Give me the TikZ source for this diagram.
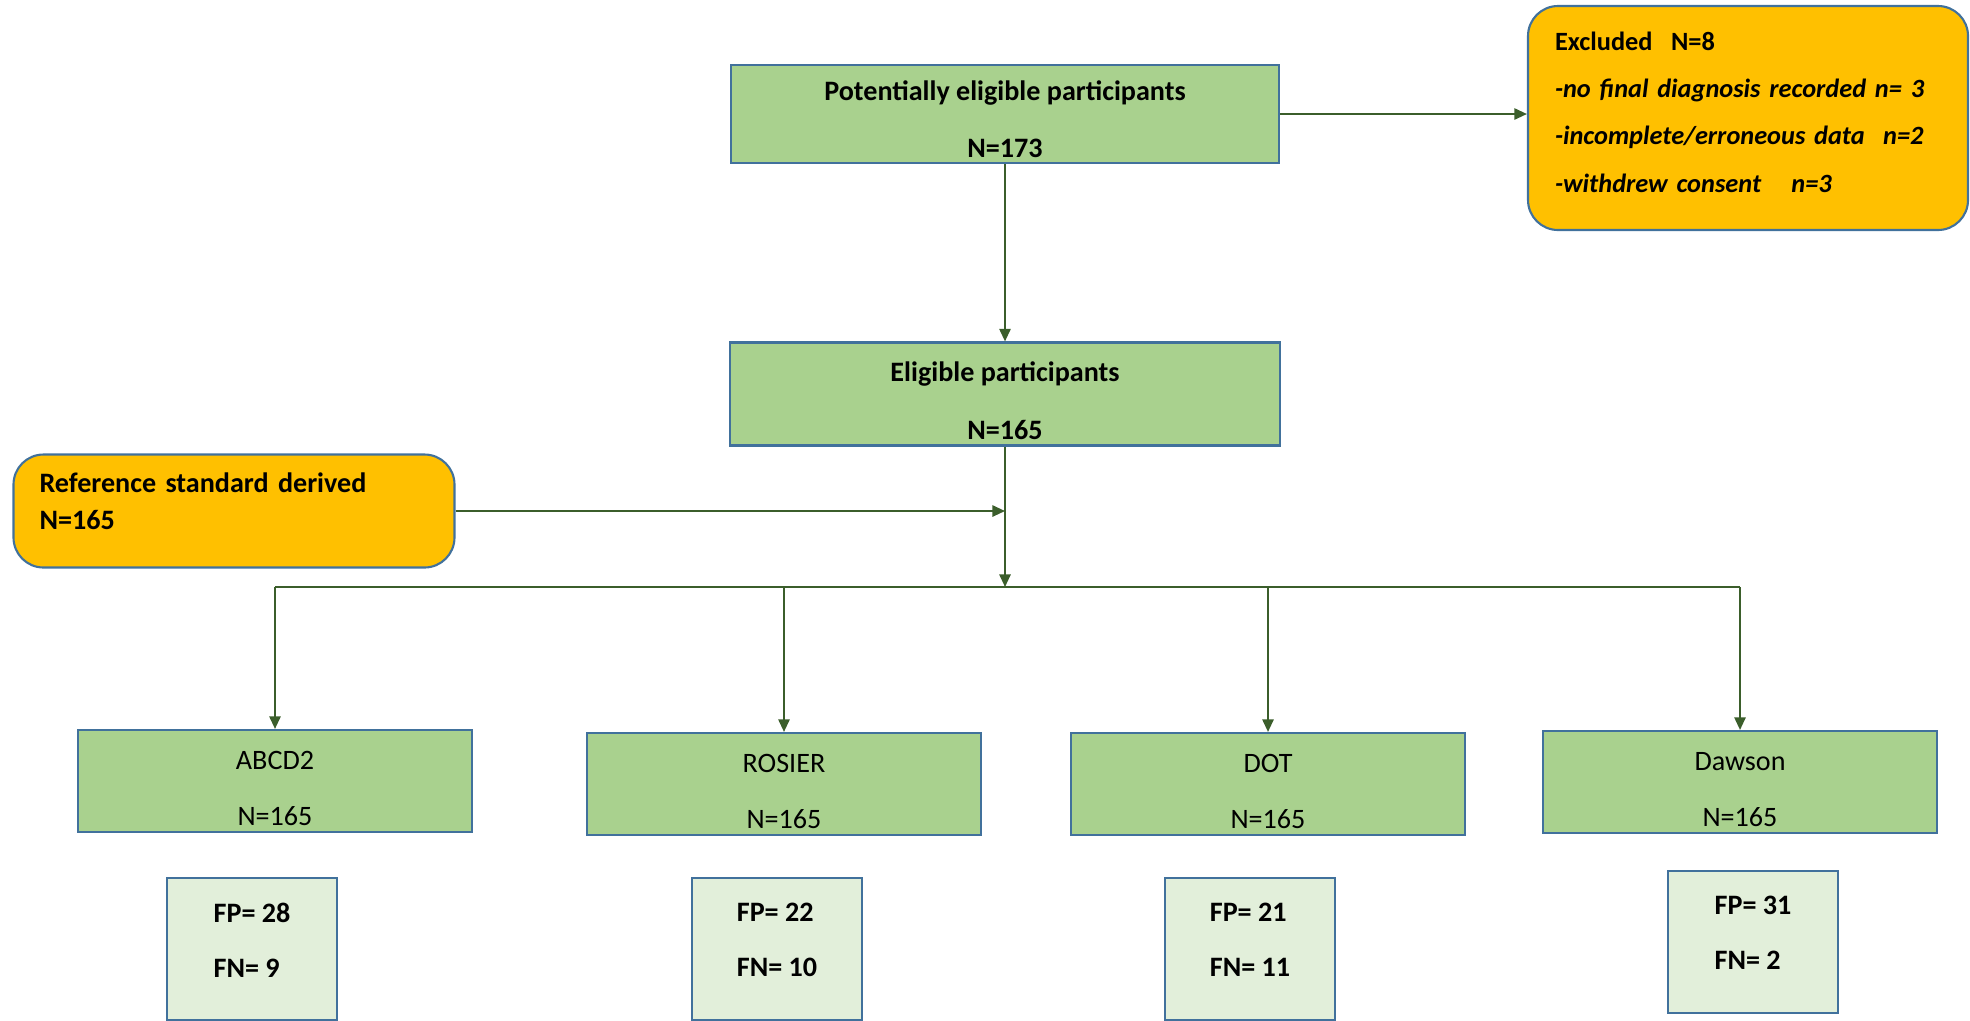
\documentclass[tikz,border=0pt]{standalone}
\usepackage{fontspec}
\setmainfont{Carlito}
\usepackage{xcolor}
\usetikzlibrary{arrows.meta}
\definecolor{boxgreen}{HTML}{A9D18E}
\definecolor{palegreen}{HTML}{E2EFDA}
\definecolor{boxorange}{HTML}{FFC000}
\definecolor{edgeblue}{HTML}{41719C}
\definecolor{linegreen}{HTML}{3B5E2B}

\begin{document}
\begin{tikzpicture}[x=0.1mm,y=-0.1mm,font=\fontsize{8}{16}\selectfont,
  gbox/.style={draw=edgeblue,fill=boxgreen,line width=0.6pt,align=center,inner ysep=0pt},
  obox/.style={draw=edgeblue,fill=boxorange,line width=0.6pt,rounded corners=3mm,align=left,font=\bfseries\fontsize{7.5}{13.4}\selectfont},
  fpbox/.style={draw=edgeblue,fill=palegreen,line width=0.6pt,align=left,minimum width=17mm,minimum height=14.2mm,text depth=1.8mm,font=\bfseries\fontsize{8}{15.6}\selectfont},
  conn/.style={draw=linegreen,line width=0.6pt},
  arr/.style={conn,-{Triangle[length=3.6pt,width=3.2pt]}}]
  \useasboundingbox (0,0) rectangle (1970,1020);

  \node[gbox,font=\bfseries\fontsize{8}{16.3}\selectfont,minimum width=54.8mm,minimum height=9.8mm,text height=8.8mm] (pot) at (1005,114) {Potentially eligible participants\\N=173};
  \node[obox,minimum width=44mm,minimum height=22.4mm,text width=38.6mm,inner xsep=2.7mm,text depth=15.3mm] (excl) at (1748,118)
    {Excluded\hspace{0.7em}N=8\\\itshape -no final diagnosis recorded n= 3\\\itshape -incomplete/erroneous data\hspace{0.7em}n=2\\\itshape -withdrew consent\hspace{1.15em}n=3};
  \node[gbox,font=\bfseries\fontsize{8}{16.5}\selectfont,minimum width=55mm,minimum height=10.3mm,text height=9.1mm] (elig) at (1005,394) {Eligible participants\\N=165};
  \node[obox,font=\bfseries\fontsize{8}{10.5}\selectfont,minimum width=44.1mm,minimum height=11.3mm,text width=38.9mm,text depth=5.7mm] (ref) at (234,511) {Reference standard derived\\N=165};
  \coordinate (split) at (1005,587);

  % index tests
  \foreach \nm/\lab/\x/\y/\fx/\fy/\fp/\fn in {abcd/ABCD2/275/781/252/949/28/9,ros/ROSIER/784/784/777/949/22/10,
      dot/DOT/1268/784/1250/949/21/11,daw/Dawson/1740/782/1753/942/31/2}{
    \node[gbox,minimum width=39.4mm,minimum height=10.2mm,text height=9mm] (\nm) at (\x,\y) {\lab\\N=165};
    \node[fpbox] (\nm fp) at (\fx,\fy) {FP= \fp\\FN= \fn};
    \draw[arr] (\nm.north |- split) -- (\nm.north);
  }

  \draw[arr] (pot.east) -- (pot.east -| excl.west);
  \draw[arr] (pot.south) -- (elig.north);
  \draw[arr] (elig.south) -- (split);
  \draw[arr] (ref.east) -- (ref.east -| split);
  \draw[conn] (abcd.north |- split) -- (daw.north |- split);
\end{tikzpicture}
\end{document}
